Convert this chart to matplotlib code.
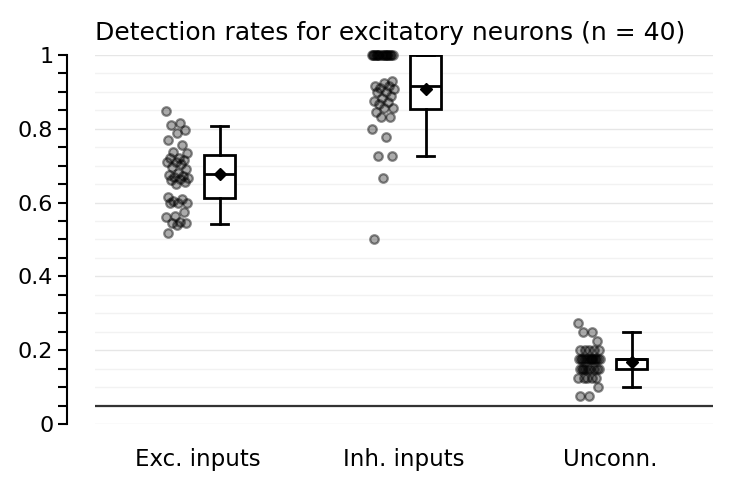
import numpy as np
import matplotlib
matplotlib.use("Agg")
import matplotlib.pyplot as plt

# per-neuron detection rates
categories = ["Exc. inputs", "Inh. inputs", "Unconn."]

exc_rates = [0.849, 0.815, 0.81, 0.797, 0.788, 0.77, 0.755, 0.738, 0.734, 0.72,
             0.72, 0.715, 0.71, 0.71, 0.705, 0.697, 0.69, 0.68, 0.675, 0.672,
             0.67, 0.668, 0.665, 0.661, 0.655, 0.65, 0.616, 0.61, 0.605, 0.6,
             0.6, 0.598, 0.575, 0.563, 0.56, 0.548, 0.544, 0.544, 0.54, 0.517]

inh_rates = [1.0] * 16 + [0.93, 0.924, 0.917, 0.917,
             0.91, 0.909, 0.9, 0.9, 0.889, 0.883, 0.875, 0.873, 0.867, 0.857,
             0.856, 0.846, 0.833, 0.833, 0.8, 0.778, 0.727, 0.727, 0.667, 0.5]

unconn_rates = ([0.275] + [0.25] * 2 + [0.225] + [0.2] * 5 + [0.175] * 14
                + [0.15] * 9 + [0.125] * 5 + [0.1] + [0.075] * 2)

# box summary (whiskers shown at percentiles, no fliers)
box_whislo = [0.541, 0.727, 0.1]
box_q1 = [0.612, 0.855, 0.15]
box_med = [0.677, 0.917, 0.175]
box_q3 = [0.729, 1.0, 0.175]
box_whishi = [0.808, 1.0, 0.25]
box_mean = [0.677, 0.907, 0.167]

chance_level = 0.05

fig = plt.figure(figsize=(7.34, 4.91), dpi=100)
ax = fig.add_axes([95 / 734, 67 / 491, 618 / 734, 369 / 491])

# grid
ax.set_yticks(np.arange(0, 1.01, 0.05), minor=True)
ax.grid(True, axis="y", which="major", color="#e6e6e6", lw=1.0, zorder=0)
ax.grid(True, axis="y", which="minor", color="#f2f2f2", lw=1.0, zorder=0)

all_rates = [exc_rates, inh_rates, unconn_rates]
for i, rates in enumerate(all_rates):
    n = len(rates)
    # deterministic jitter (golden-ratio sequence)
    jit = ((np.arange(n) * 0.618034) % 1.0 - 0.5) * 0.11
    ax.scatter(i - 0.1 + jit, rates, s=38, facecolor=(0, 0, 0, 0.33),
               edgecolor=(0, 0, 0, 0.45), linewidth=1.6, zorder=3, clip_on=False)

stats = []
for i in range(3):
    stats.append(dict(whislo=box_whislo[i], q1=box_q1[i], med=box_med[i],
                      q3=box_q3[i], whishi=box_whishi[i], mean=box_mean[i],
                      fliers=[]))

lw = 2.0
ax.bxp(stats, positions=np.arange(3) + 0.105, widths=0.15, showmeans=True,
       showfliers=False, patch_artist=True, manage_ticks=False,
       boxprops=dict(facecolor="white", edgecolor="black", linewidth=lw),
       medianprops=dict(color="black", linewidth=lw),
       whiskerprops=dict(color="black", linewidth=lw),
       capprops=dict(color="black", linewidth=lw),
       meanprops=dict(marker="D", markerfacecolor="black",
                      markeredgecolor="black", markersize=6),
       capwidths=0.085, zorder=4)

ax.axhline(chance_level, color="#333333", lw=1.6, zorder=2)

ax.set_xlim(-0.5, 2.5)
ax.set_ylim(0, 1)
ax.set_xticks(range(3))
ax.set_xticklabels(categories)
ax.set_yticks([0, 0.2, 0.4, 0.6, 0.8, 1.0])
ax.set_yticklabels(["0", "0.2", "0.4", "0.6", "0.8", "1"])

for s in ["top", "right", "bottom"]:
    ax.spines[s].set_visible(False)
ax.spines["left"].set_position(("outward", 20))
ax.spines["left"].set_linewidth(1.5)
ax.tick_params(axis="x", length=0, pad=17, labelsize=16.5)
ax.tick_params(axis="y", which="both", length=6.5, width=1.5, pad=3.5,
               labelsize=16)

ax.set_title("Detection rates for excitatory neurons (n = 40)", loc="left",
             fontsize=18, pad=11)

fig.savefig("out.png", dpi=100)
